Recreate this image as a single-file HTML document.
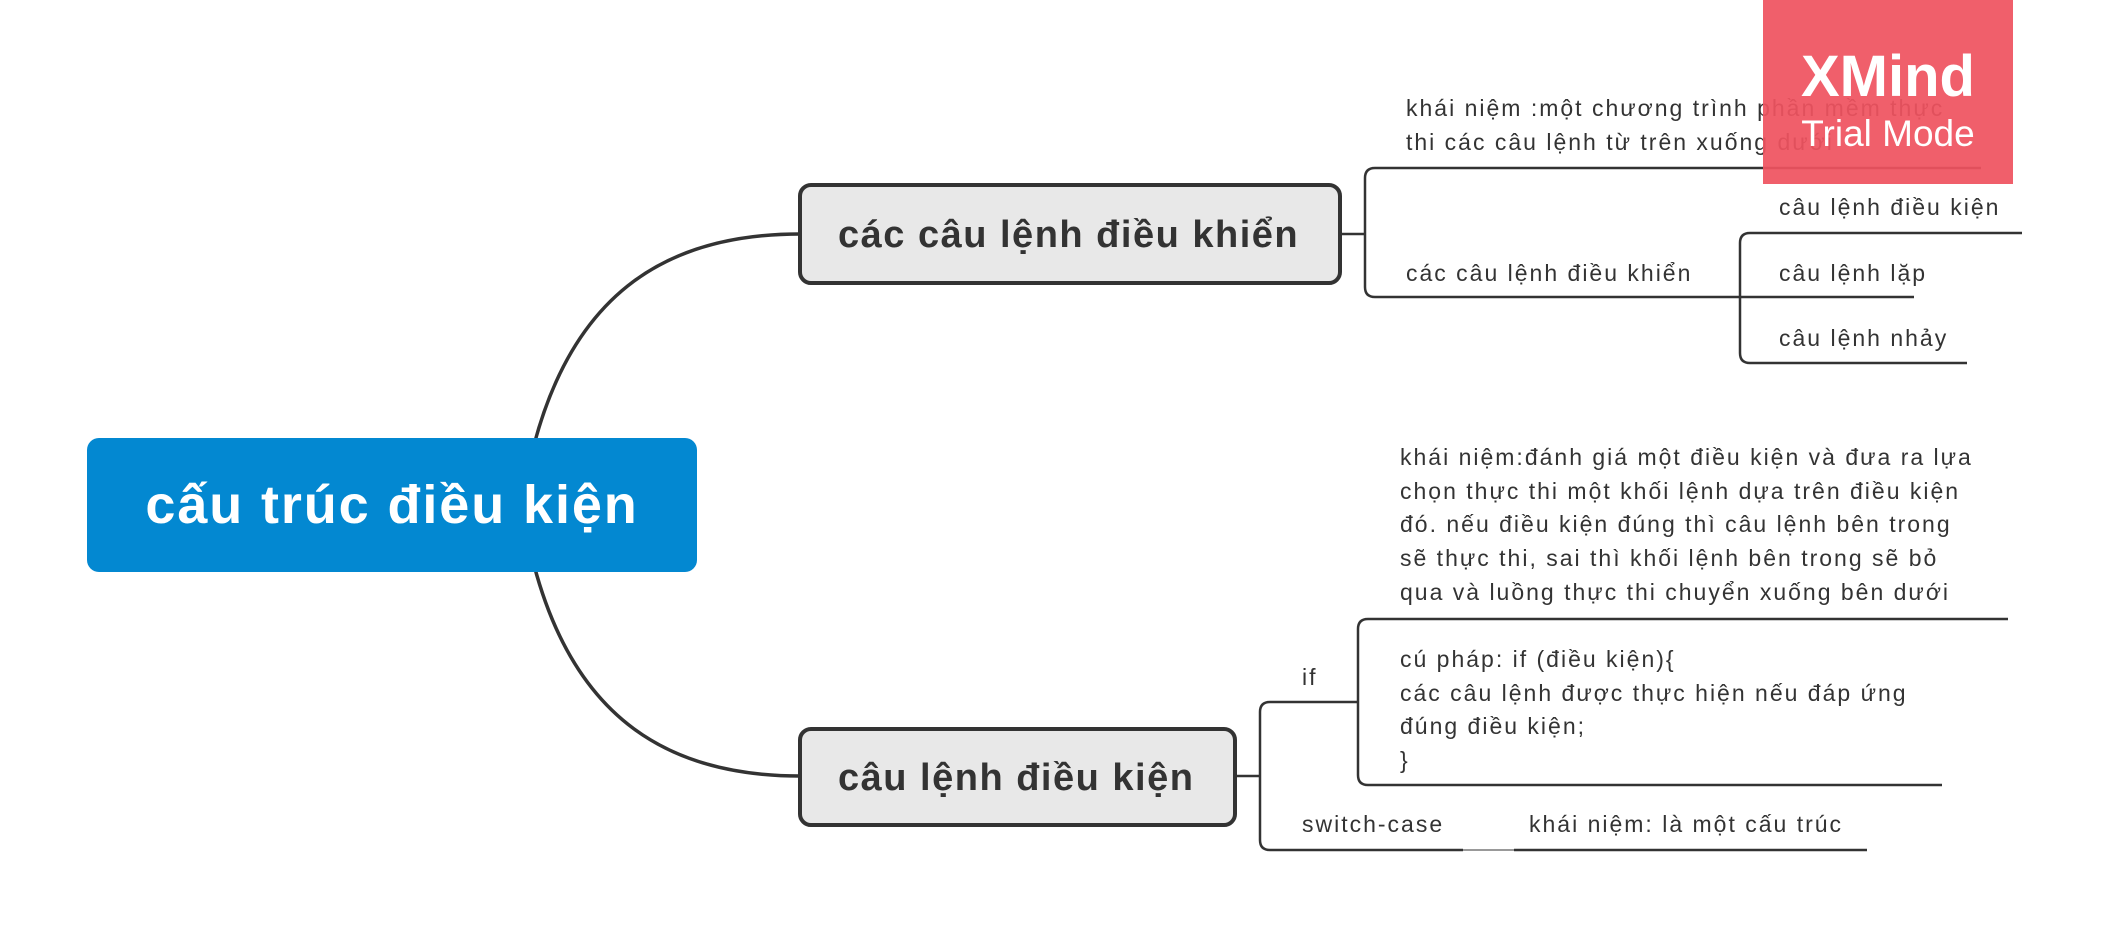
<!DOCTYPE html>
<html><head><meta charset="utf-8"><style>
html,body{margin:0;padding:0;background:#fff;}
svg{display:block;}
text{font-family:"Liberation Sans","DejaVu Sans",sans-serif;fill:#333;}
.s{font-size:23px;letter-spacing:2px;}
</style></head><body>
<svg width="2109" height="939" viewBox="0 0 2109 939" xmlns="http://www.w3.org/2000/svg">
<g fill="none" stroke="#333" stroke-width="3.5">
<path d="M534 445 C575 290,670 234,800 234"/>
<path d="M534 565 C575 720,670 776,800 776"/>
</g>
<rect x="87" y="438" width="610" height="134" rx="12" fill="#0388D1"/>
<text x="392" y="523" text-anchor="middle" font-size="54" font-weight="bold" letter-spacing="1.9" style="fill:#fff">cấu trúc điều kiện</text>

<rect x="800" y="185" width="540" height="98" rx="11" fill="#e8e8e8" stroke="#333" stroke-width="4"/>
<text x="838" y="247" font-size="38" font-weight="bold" letter-spacing="1.5">các câu lệnh điều khiển</text>
<rect x="800" y="729" width="435" height="96" rx="11" fill="#e8e8e8" stroke="#333" stroke-width="4"/>
<text x="838" y="790" font-size="38" font-weight="bold" letter-spacing="1.5">câu lệnh điều kiện</text>

<g fill="none" stroke="#333" stroke-width="2.5">
<path d="M1340 234 H1365"/>
<path d="M1385 168 H1375 Q1365 168 1365 178 V287 Q1365 297 1375 297 H1385"/>
<path d="M1385 168 H1981"/>
<path d="M1385 297 H1740"/>
<path d="M1740 297 H1760"/>
<path d="M1760 233 H1750 Q1740 233 1740 243 V353 Q1740 363 1750 363 H1760"/>
<path d="M1760 233 H2022"/>
<path d="M1760 297 H1914"/>
<path d="M1760 363 H1967"/>

<path d="M1235 776 H1260"/>
<path d="M1280 702 H1270 Q1260 702 1260 712 V840 Q1260 850 1270 850 H1280"/>
<path d="M1280 702 H1358"/>
<path d="M1378 619 H1368 Q1358 619 1358 629 V775 Q1358 785 1368 785 H1378"/>
<path d="M1378 619 H2008"/>
<path d="M1378 785 H1942"/>
<path d="M1280 850 H1463"/>
<path d="M1514 850 H1867"/>
</g>
<path d="M1463 850 H1514" stroke="#999" stroke-width="2"/>

<text class="s" x="1406" y="116">khái niệm :một chương trình phần mềm thực</text>
<text class="s" x="1406" y="150">thi các câu lệnh từ trên xuống dưới</text>
<text class="s" x="1406" y="281">các câu lệnh điều khiển</text>
<text class="s" x="1779" y="215">câu lệnh điều kiện</text>
<text class="s" x="1779" y="281">câu lệnh lặp</text>
<text class="s" x="1779" y="346">câu lệnh nhảy</text>

<text class="s" x="1302" y="685">if</text>
<text class="s" x="1400" y="465">khái niệm:đánh giá một điều kiện và đưa ra lựa</text>
<text class="s" x="1400" y="499">chọn thực thi một khối lệnh dựa trên điều kiện</text>
<text class="s" x="1400" y="532">đó. nếu điều kiện đúng thì câu lệnh bên trong</text>
<text class="s" x="1400" y="566">sẽ thực thi, sai thì khối lệnh bên trong sẽ bỏ</text>
<text class="s" x="1400" y="600">qua và luồng thực thi chuyển xuống bên dưới</text>
<text class="s" x="1400" y="667">cú pháp: if (điều kiện){</text>
<text class="s" x="1400" y="701">các câu lệnh được thực hiện nếu đáp ứng</text>
<text class="s" x="1400" y="734">đúng điều kiện;</text>
<text class="s" x="1400" y="768">}</text>
<text class="s" x="1302" y="832">switch-case</text>
<text class="s" x="1529" y="832">khái niệm: là một cấu trúc</text>

<rect x="1763" y="0" width="250" height="184" fill="#EF5360" opacity="0.93"/>
<text x="1888" y="96" text-anchor="middle" font-size="58" font-weight="bold" style="fill:#fff">XMind</text>
<text x="1888" y="146" text-anchor="middle" font-size="37" style="fill:#fff">Trial Mode</text>
</svg>
</body></html>
